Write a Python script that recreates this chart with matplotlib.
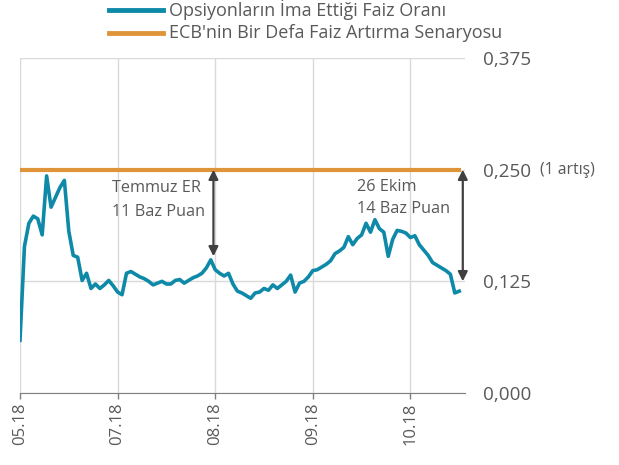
import numpy as np
import matplotlib
matplotlib.use('Agg')
import matplotlib.pyplot as plt
from matplotlib.lines import Line2D

plt.rcParams['font.family'] = ['Open Sans', 'DejaVu Sans']

# implied rate from options (one value per trading day)
implied = [0.059, 0.164, 0.190, 0.198, 0.195, 0.177, 0.243, 0.208, 0.219, 0.230,
           0.238, 0.181, 0.154, 0.152, 0.126, 0.134, 0.117, 0.122, 0.117, 0.121,
           0.126, 0.120, 0.113, 0.110, 0.134, 0.136, 0.133, 0.130, 0.128, 0.125,
           0.121, 0.123, 0.125, 0.122, 0.122, 0.126, 0.127, 0.123, 0.126, 0.129,
           0.131, 0.134, 0.140, 0.149, 0.138, 0.134, 0.131, 0.134, 0.122, 0.114,
           0.112, 0.109, 0.106, 0.112, 0.113, 0.117, 0.115, 0.121, 0.117, 0.121,
           0.125, 0.132, 0.113, 0.123, 0.125, 0.130, 0.137, 0.138, 0.141, 0.144,
           0.148, 0.156, 0.159, 0.163, 0.175, 0.166, 0.173, 0.177, 0.190, 0.180,
           0.194, 0.184, 0.180, 0.153, 0.172, 0.182, 0.181, 0.179, 0.174, 0.176,
           0.166, 0.160, 0.154, 0.146, 0.143, 0.140, 0.137, 0.133, 0.112, 0.114]
ecb_level = 0.25
days = np.arange(len(implied))

tick_pos = [0, 22, 44, 66, 88]
tick_labels = ['05.18', '07.18', '08.18', '09.18', '10.18']
ytick_vals = [0.0, 0.125, 0.25, 0.375]
ytick_labels = ['0,000', '0,125', '0,250', '0,375']

blue = '#0E8AA8'
orange = '#E0943A'
txt = '#595959'

fig = plt.figure(figsize=(6.19, 4.65), dpi=100)
ax = fig.add_axes([20/619, 72/465, 445/619, 335/465])

ax.plot(days, implied, color=blue, lw=2.6, solid_joinstyle='round', zorder=3)
ax.hlines(ecb_level, 0, 99.5, color=orange, lw=3, zorder=3)

arrow = dict(arrowstyle='<|-|>', color='#404040', lw=1.6, mutation_scale=14,
             shrinkA=0, shrinkB=0)
ax.annotate('', xy=(43.6, 0.153), xytext=(43.6, 0.25), arrowprops=arrow, zorder=4)
ax.annotate('', xy=(99.8, 0.125), xytext=(99.8, 0.25), arrowprops=arrow, zorder=4)

ax.text(20.8, 0.229, 'Temmuz ER', fontsize=11.7, color=txt, va='center')
ax.text(20.8, 0.203, '11 Baz Puan', fontsize=11.7, color=txt, va='center')
ax.text(75.9, 0.231, '26 Ekim', fontsize=11.7, color=txt, va='center')
ax.text(75.9, 0.206, '14 Baz Puan', fontsize=11.7, color=txt, va='center')

ax.set_xlim(0, 100.3)
ax.set_ylim(0, 0.375)
ax.set_xticks(tick_pos)
ax.set_xticklabels(tick_labels, rotation=90, fontsize=12, color=txt)
ax.set_yticks(ytick_vals)
ax.set_yticklabels(ytick_labels, fontsize=13.6, color=txt)
ax.yaxis.tick_right()
ax.tick_params(axis='y', length=0, pad=13)
ax.tick_params(axis='x', length=4, width=1, color='#7f7f7f', pad=3)
ax.grid(True, color='#d9d9d9', lw=1)
ax.set_axisbelow(True)
for s in ['left', 'right', 'top']:
    ax.spines[s].set_visible(False)
ax.spines['bottom'].set_color('#7f7f7f')
ax.spines['bottom'].set_zorder(5)

fig.text(540/619, 1 - 170/465, '(1 artış)', fontsize=11.3, color=txt, va='center')

# legend drawn by hand at the top
for yy, col, lab in [(10, blue, 'Opsiyonların İma Ettiği Faiz Oranı'),
                     (33, orange, "ECB'nin Bir Defa Faiz Artırma Senaryosu")]:
    fig.add_artist(Line2D([109/619, 163/619], [1 - yy/465, 1 - yy/465],
                          color=col, lw=3.5, transform=fig.transFigure))
    fig.text(169/619, 1 - yy/465, lab, fontsize=13, color=txt, va='center')

fig.savefig('out.png', dpi=100)
